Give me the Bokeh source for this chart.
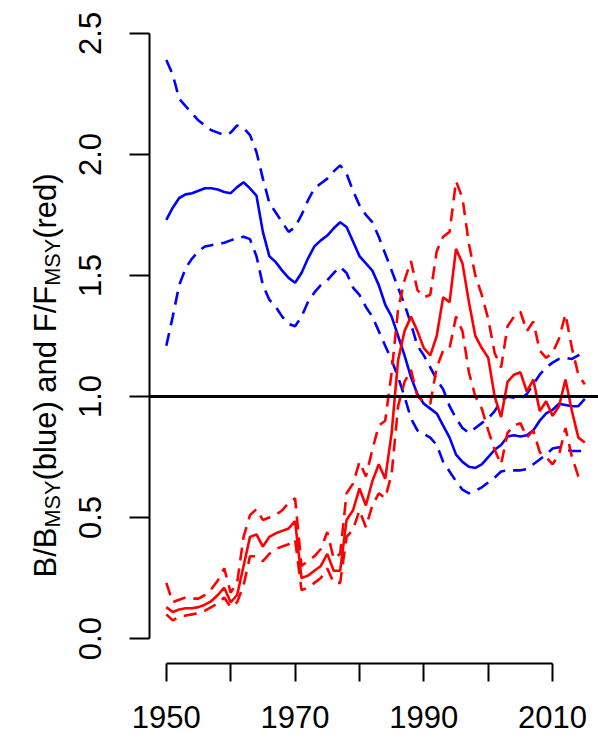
import math
from bokeh.plotting import figure
from bokeh.layouts import row
from bokeh.models import FixedTicker, Span
from bokeh.core.properties import value
from bokeh.embed import file_html
from bokeh.resources import INLINE

years = list(range(1950, 2016))

# B/BMSY (blue) median, upper, lower
b_mid = [1.73, 1.78, 1.82, 1.835, 1.84, 1.85, 1.86, 1.86, 1.855, 1.845,
         1.84, 1.865, 1.885, 1.86, 1.83, 1.68, 1.58, 1.555, 1.52, 1.49,
         1.47, 1.51, 1.57, 1.62, 1.645, 1.665, 1.695, 1.72, 1.70, 1.64,
         1.58, 1.55, 1.52, 1.46, 1.38, 1.33, 1.25, 1.17, 1.08, 1.01,
         0.97, 0.95, 0.93, 0.88, 0.83, 0.76, 0.73, 0.71, 0.705, 0.72,
         0.75, 0.78, 0.80, 0.835, 0.84, 0.835, 0.84, 0.86, 0.90, 0.93,
         0.945, 0.97, 0.965, 0.96, 0.96, 0.99]
b_up = [2.39, 2.33, 2.23, 2.20, 2.17, 2.14, 2.12, 2.10, 2.09, 2.08,
        2.09, 2.12, 2.11, 2.08, 2.01, 1.90, 1.80, 1.76, 1.72, 1.68,
        1.70, 1.75, 1.81, 1.86, 1.88, 1.90, 1.93, 1.955, 1.92, 1.85,
        1.79, 1.75, 1.72, 1.66, 1.59, 1.52, 1.45, 1.38, 1.30, 1.21,
        1.17, 1.12, 1.07, 1.03, 0.96, 0.91, 0.87, 0.85, 0.87, 0.89,
        0.91, 0.94, 0.98, 1.00, 0.995, 0.99, 1.01, 1.05, 1.09, 1.12,
        1.14, 1.155, 1.16, 1.155, 1.17, 1.19]
b_lo = [1.21, 1.33, 1.46, 1.53, 1.57, 1.60, 1.62, 1.625, 1.63, 1.635,
        1.645, 1.655, 1.66, 1.65, 1.58, 1.46, 1.40, 1.37, 1.33, 1.30,
        1.29, 1.33, 1.39, 1.43, 1.46, 1.48, 1.51, 1.535, 1.51, 1.45,
        1.42, 1.37, 1.33, 1.27, 1.21, 1.15, 1.08, 1.00, 0.91, 0.86,
        0.845, 0.83, 0.80, 0.73, 0.69, 0.65, 0.615, 0.60, 0.61, 0.625,
        0.645, 0.665, 0.69, 0.695, 0.695, 0.695, 0.70, 0.72, 0.74, 0.76,
        0.785, 0.79, 0.78, 0.775, 0.775, 0.775]

# F/FMSY (red) median, upper, lower
f_mid = [0.13, 0.11, 0.12, 0.125, 0.125, 0.13, 0.14, 0.155, 0.18, 0.21,
         0.15, 0.18, 0.30, 0.42, 0.43, 0.38, 0.42, 0.435, 0.445, 0.455,
         0.485, 0.25, 0.26, 0.28, 0.30, 0.35, 0.28, 0.28, 0.49, 0.53,
         0.62, 0.55, 0.65, 0.72, 0.66, 0.85, 1.15, 1.27, 1.33, 1.27,
         1.20, 1.17, 1.25, 1.41, 1.39, 1.61, 1.55, 1.39, 1.25, 1.20,
         1.16, 1.00, 0.915, 1.06, 1.09, 1.10, 1.02, 1.07, 0.94, 0.98,
         0.92, 0.96, 1.07, 0.94, 0.83, 0.81]
f_up = [0.23, 0.15, 0.16, 0.17, 0.165, 0.165, 0.18, 0.205, 0.24, 0.29,
        0.19, 0.23, 0.42, 0.51, 0.535, 0.49, 0.50, 0.51, 0.53, 0.56,
        0.58, 0.30, 0.32, 0.34, 0.37, 0.44, 0.33, 0.35, 0.60, 0.64,
        0.73, 0.67, 0.78, 0.88, 0.90, 1.10, 1.36, 1.48, 1.56, 1.44,
        1.41, 1.42, 1.60, 1.66, 1.68, 1.89, 1.82, 1.63, 1.50, 1.42,
        1.32, 1.18, 1.12, 1.29, 1.33, 1.35, 1.27, 1.31, 1.19, 1.16,
        1.18, 1.24, 1.34, 1.20, 1.09, 1.05]
f_lo = [0.10, 0.075, 0.09, 0.095, 0.10, 0.105, 0.115, 0.13, 0.145, 0.17,
        0.13, 0.15, 0.22, 0.34, 0.34, 0.32, 0.35, 0.37, 0.38, 0.39,
        0.41, 0.20, 0.21, 0.23, 0.25, 0.29, 0.23, 0.23, 0.42, 0.45,
        0.53, 0.46, 0.55, 0.60, 0.58, 0.68, 0.96, 1.06, 1.11, 1.00,
        0.98, 0.97, 1.12, 1.19, 1.20, 1.33, 1.27, 1.10, 1.00, 0.95,
        0.86, 0.78, 0.72, 0.85, 0.88, 0.89, 0.83, 0.86, 0.77, 0.75,
        0.72, 0.76, 0.87, 0.75, 0.67, 0.65]

x_ticks = [1950, 1960, 1970, 1980, 1990, 2000, 2010]
x_tick_labels = ["1950", "", "1970", "", "1990", "", "2010"]
y_ticks = [0.0, 0.5, 1.0, 1.5, 2.0, 2.5]
y_tick_labels = ["0.0", "0.5", "1.0", "1.5", "2.0", "2.5"]

# y-axis title pieces: (text, is_subscript)
title_pieces = [("B/B", False), ("MSY", True), ("(blue) and F/F", False), ("MSY", True), (" (red)", False)]

FONT = "Liberation Sans"
FS = 31
SUB = FS * 0.7
H = 740
LAB_W = 66
TOP, BOTTOM = 7, 77

# ---------- main plot ----------
p = figure(width=598 - LAB_W, height=H, x_range=(1947.39, 2017.13), y_range=(-0.103, 2.607),
           output_backend="svg", toolbar_location=None,
           min_border_left=149 - LAB_W, min_border_right=0, min_border_top=TOP, min_border_bottom=BOTTOM)
p.outline_line_color = None
p.grid.visible = False

dash = "13 8"
lw = 2.6
p.line(years, b_up, line_color="#0000FF", line_width=lw, line_dash=dash)
p.line(years, b_lo, line_color="#0000FF", line_width=lw, line_dash=dash)
p.line(years, b_mid, line_color="#0000FF", line_width=lw)
p.line(years, f_up, line_color="#FF0000", line_width=lw, line_dash=dash)
p.line(years, f_lo, line_color="#FF0000", line_width=lw, line_dash=dash)
p.line(years, f_mid, line_color="#FF0000", line_width=lw)

p.add_layout(Span(location=1.0, dimension="width", line_color="black", line_width=3))

xa = p.xaxis[0]
xa.ticker = FixedTicker(ticks=x_ticks)
xa.major_label_overrides = {t: l for t, l in zip(x_ticks, x_tick_labels)}
xa.bounds = (x_ticks[0], x_ticks[-1])
ya = p.yaxis[0]
ya.ticker = FixedTicker(ticks=y_ticks)
ya.major_label_overrides = {t: l for t, l in zip(y_ticks, y_tick_labels)}
ya.bounds = (y_ticks[0], y_ticks[-1])
ya.major_label_orientation = "vertical"

for ax in (xa, ya):
    ax.axis_line_width = 2
    ax.axis_line_color = "black"
    ax.major_tick_line_width = 2
    ax.major_tick_line_color = "black"
    ax.major_tick_in = 0
    ax.minor_tick_line_color = None
    ax.major_label_text_font = FONT
    ax.major_label_text_font_size = f"{FS}px"
    ax.major_label_text_color = "black"
    ax.major_label_text_font_style = "normal"
xa.major_tick_out = 18
ya.major_tick_out = 20
xa.major_label_standoff = 24
ya.major_label_standoff = 28

# ---------- y-axis title strip (pixel coordinates: y = H - page_y) ----------
lab = figure(width=LAB_W, height=H, x_range=(0, LAB_W), y_range=(BOTTOM, H - TOP),
             x_axis_location=None, y_axis_location=None, output_backend="svg",
             toolbar_location=None, min_border_left=0, min_border_right=0,
             min_border_top=TOP, min_border_bottom=BOTTOM)
lab.outline_line_color = None
lab.grid.visible = False

ADV = {"B": .667, "/": .278, "M": .833, "S": .667, "Y": .667, "(": .333, ")": .333,
       "b": .556, "l": .222, "u": .556, "e": .556, " ": .278, "a": .556, "n": .556,
       "d": .556, "F": .611, "r": .333}

base_x = 45
pos = H - 577
main_x, main_y, main_t = [], [], []
sub_x, sub_y, sub_t = [], [], []
for txt, is_sub in title_pieces:
    fs = SUB if is_sub else FS
    if is_sub:
        sub_x.append(base_x + 7); sub_y.append(pos); sub_t.append(txt)
    else:
        main_x.append(base_x); main_y.append(pos); main_t.append(txt)
    pos += sum(ADV[c] for c in txt) * fs

lab.text(x=main_x, y=main_y, text=main_t, angle=math.pi / 2, text_font=value(FONT),
         text_font_size=value(f"{FS}px"), text_align="left", text_baseline="alphabetic",
         text_color="black")
lab.text(x=sub_x, y=sub_y, text=sub_t, angle=math.pi / 2, text_font=value(FONT),
         text_font_size=value(f"{SUB:.1f}px"), text_align="left", text_baseline="alphabetic",
         text_color="black")

layout = row(lab, p, spacing=0)
open("out.html", "w").write(file_html(layout, INLINE))
